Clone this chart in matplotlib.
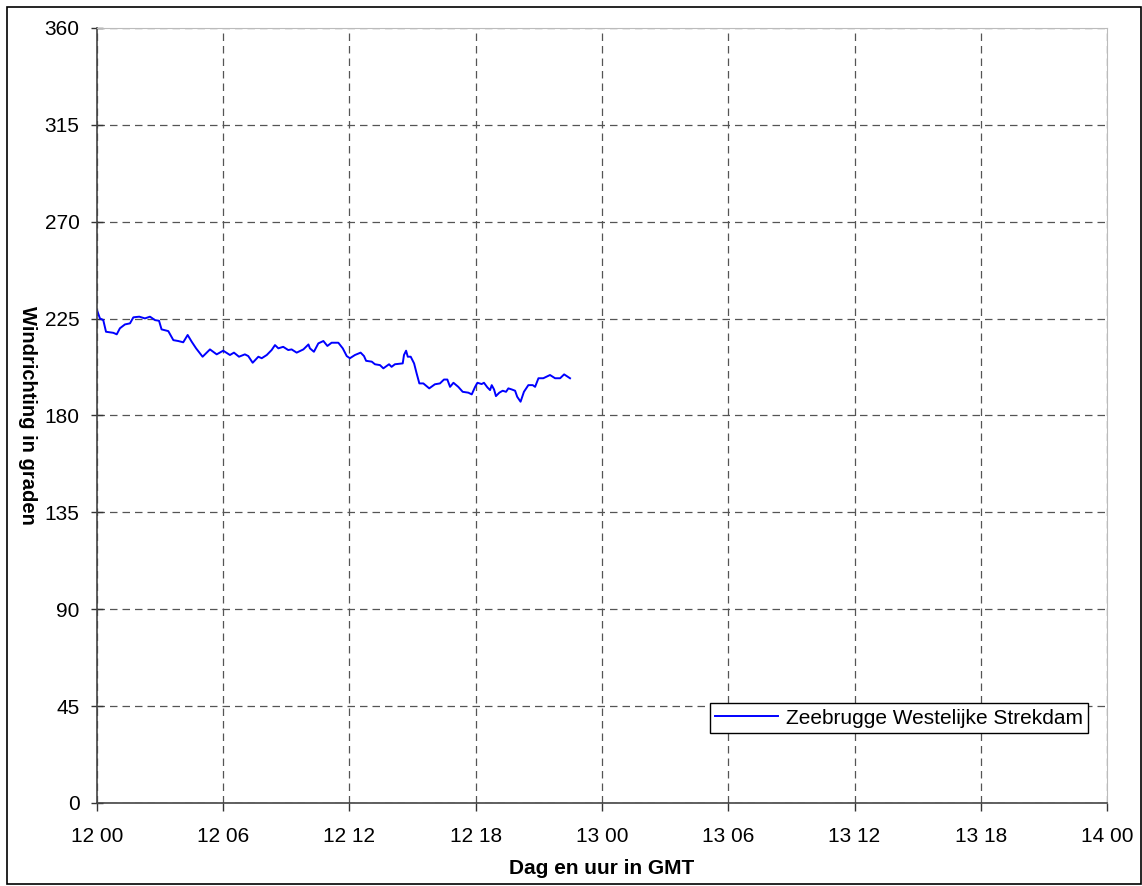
import matplotlib.pyplot as plt
import matplotlib.patches as mpatches

plt.rcParams['font.family'] = ['Liberation Sans', 'DejaVu Sans']

# wind direction, hours since 12 00 GMT
hours = [0.0, 0.14, 0.3, 0.43, 0.78, 0.94, 1.09, 1.33, 1.57, 1.73, 2.01, 2.28, 2.52, 2.76,
         2.95, 3.07, 3.39, 3.63, 3.86, 4.1, 4.31, 4.5, 4.71, 5.02, 5.37, 5.69, 6.0, 6.32,
         6.51, 6.75, 7.03, 7.19, 7.4, 7.67, 7.83, 8.07, 8.3, 8.46, 8.62, 8.85, 9.09, 9.25,
         9.49, 9.81, 10.05, 10.12, 10.31, 10.52, 10.76, 10.95, 11.15, 11.47, 11.68, 11.87,
         12.02, 12.26, 12.53, 12.69, 12.79, 13.06, 13.21, 13.45, 13.61, 13.88, 14.0, 14.16,
         14.53, 14.59, 14.69, 14.77, 14.91, 15.07, 15.19, 15.32, 15.51, 15.79, 16.06, 16.3,
         16.49, 16.65, 16.78, 16.94, 17.17, 17.38, 17.65, 17.81, 17.97, 18.08, 18.28, 18.39,
         18.55, 18.68, 18.76, 18.87, 18.96, 19.12, 19.28, 19.44, 19.55, 19.71, 19.87, 19.97,
         20.13, 20.29, 20.5, 20.71, 20.82, 20.98, 21.21, 21.53, 21.77, 22.01, 22.2, 22.48]
direction = [229, 225.1, 224.3, 218.9, 218.4, 217.7, 220.5, 222.3, 222.8, 225.6, 225.9, 225.1,
             225.9, 224.3, 224.0, 220.0, 219.2, 215.0, 214.6, 214.0, 217.4, 214.3, 211.2, 207.3,
             210.7, 208.4, 210.1, 208.1, 209.2, 207.3, 208.4, 207.6, 204.5, 207.3, 206.6, 208.1,
             210.4, 212.7, 211.2, 211.9, 210.4, 210.7, 209.2, 210.7, 213.0, 211.2, 209.6, 213.5,
             214.6, 212.3, 213.8, 213.8, 211.2, 207.6, 206.6, 208.1, 209.2, 207.6, 205.4, 205.0,
             203.8, 203.4, 201.9, 203.8, 202.6, 203.8, 204.2, 208.1, 210.1, 207.3, 207.3, 204.2,
             199.6, 194.9, 194.9, 192.6, 194.5, 194.9, 196.7, 196.7, 193.3, 195.2, 193.3, 191.0,
             190.6, 189.8, 193.3, 195.2, 194.6, 195.2, 193.1, 191.8, 194.1, 192.1, 189.0, 190.6,
             191.5, 191.0, 192.6, 192.1, 191.5, 188.7, 186.4, 191.0, 194.1, 194.1, 193.3, 197.3,
             197.3, 198.8, 197.3, 197.3, 199.1, 197.3]

xticks = list(range(0, 49, 6))
xticklabels = ['12 00', '12 06', '12 12', '12 18', '13 00', '13 06', '13 12', '13 18', '14 00']
yticks = list(range(0, 361, 45))

fig = plt.figure(figsize=(11.42, 8.86), dpi=100)
ax = fig.add_axes([0.0849, 0.0937, 0.8845, 0.8747])

ax.plot(hours, direction, color='#0000ff', lw=1.4, label='Zeebrugge Westelijke Strekdam')

ax.set_xlim(0, 48)
ax.set_ylim(0, 360)
ax.set_xticks(xticks)
ax.set_xticklabels(xticklabels)
ax.set_yticks(yticks)
ax.tick_params(axis='x', labelsize=15, length=6, width=1, color='#333333', pad=11)
ax.tick_params(axis='y', labelsize=15, length=9, width=1, color='#333333', pad=8,
               direction='inout')
ax.grid(True, color='#555555', ls=(0, (6, 4)), lw=0.9)

for s in ['left', 'bottom']:
    ax.spines[s].set_color('#444444')
    ax.spines[s].set_linewidth(1.2)
for s in ['top', 'right']:
    ax.spines[s].set_color('#bbbbbb')

ax.set_xlabel('Dag en uur in GMT', fontsize=15, fontweight='bold', labelpad=10)
ax.set_ylabel('Windrichting in graden', fontsize=14.5, fontweight='bold', labelpad=12,
              rotation=270, va='center')

leg = ax.legend(loc='lower right', bbox_to_anchor=(0.9813, 0.0905), fontsize=15,
                fancybox=False, framealpha=1, edgecolor='black', borderpad=0.25,
                handlelength=3.0, handletextpad=0.4, borderaxespad=0)
leg.get_frame().set_linewidth(1.0)

# outer border
fig.patches.append(mpatches.Rectangle((0.006, 0.002), 0.993, 0.99, transform=fig.transFigure,
                                      fill=False, edgecolor='black', lw=1.2))

plt.savefig('out.png', dpi=100)
